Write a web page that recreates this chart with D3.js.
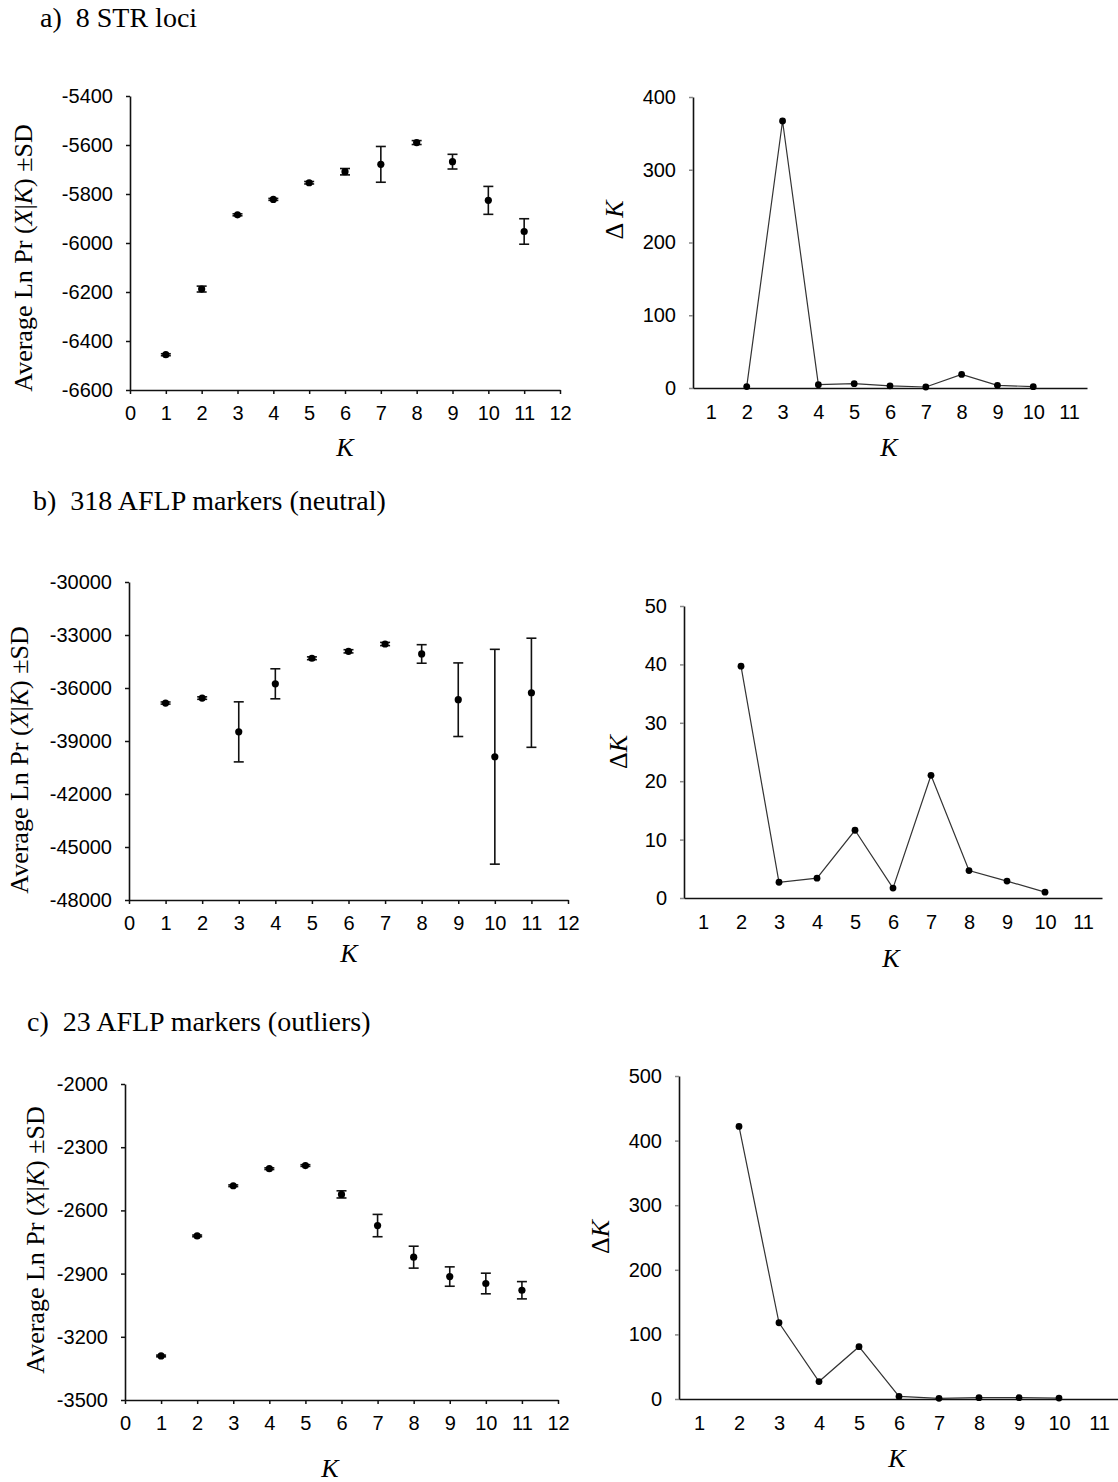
<!DOCTYPE html>
<html>
<head>
<meta charset="utf-8">
<script src="https://cdn.jsdelivr.net/npm/d3@7"></script>
<style>
  html, body { margin: 0; padding: 0; background: #fff; }
  svg { display: block; }
  .tick text { font-family: "Liberation Sans", Arial, sans-serif; font-size: 20px; fill: #000; }
  .title { font-family: "Liberation Serif", "Times New Roman", serif; font-size: 28px; fill: #000; white-space: pre; }
  .alabel { font-family: "Liberation Serif", "Times New Roman", serif; font-size: 26px; fill: #000; white-space: pre; }
</style>
</head>
<body>
<script>
// Number of clusters tested
const kValues = [1, 2, 3, 4, 5, 6, 7, 8, 9, 10, 11];
const deltaKValues = [2, 3, 4, 5, 6, 7, 8, 9, 10];

// a) 8 STR loci
const strMean = [-6456, -6188, -5885, -5822, -5754, -5709, -5679, -5590, -5668, -5826, -5953];
const strSD   = [4, 12, 4, 4, 5, 13, 73, 8, 30, 57, 52];
const strDeltaK = [2, 367, 4.6, 6, 3, 1.4, 18.7, 3.7, 1.8];

// b) 318 AFLP markers (neutral)
const neutralMean = [-36851, -36570, -38483, -35762, -34317, -33923, -33510, -34073, -36663, -39891, -36269];
const neutralSD   = [60, 70, 1700, 850, 80, 90, 90, 525, 2083, 6080, 3088];
const neutralDeltaK = [39.7, 2.7, 3.4, 11.6, 1.7, 21.0, 4.7, 2.9, 1.0];

// c) 23 AFLP markers (outliers)
const outlierMean = [-3291, -2721, -2483, -2402, -2387, -2524, -2672, -2822, -2914, -2947, -2979];
const outlierSD   = [4, 4, 4, 4, 4, 17, 53, 52, 46, 49, 41];
const outlierDeltaK = [422, 118, 27, 81, 4, 1, 2, 2, 1.5];

// Tick values for each panel
const strTicks = d3.range(-6600, -5399, 200);
const neutralTicks = d3.range(-48000, -29999, 3000);
const outlierTicks = d3.range(-3500, -1999, 300);
const strDeltaTicks = [0, 100, 200, 300, 400];
const neutralDeltaTicks = [0, 10, 20, 30, 40, 50];
const outlierDeltaTicks = [0, 100, 200, 300, 400, 500];

const titles = ["a)  8 STR loci", "b)  318 AFLP markers (neutral)", "c)  23 AFLP markers (outliers)"];

const svg = d3.select("body").append("svg").attr("width", 1118).attr("height", 1482);
const plain = d => String(d);

function styleAxis(a, tickColor) {
  a.select(".domain").attr("stroke", "#111").attr("stroke-width", 1.6);
  a.selectAll(".tick line").attr("stroke", tickColor).attr("stroke-width", 1.5);
}

function lnPrPanel(o) {
  const x = d3.scaleLinear().domain([0, 12]).range([o.x0, o.x1]);
  const y = d3.scaleLinear().domain(o.domain).range([o.y0, o.y1]);
  const g = svg.append("g");

  const ya = g.append("g").attr("transform", `translate(${o.x0},0)`)
    .call(d3.axisLeft(y).tickValues(o.ticks).tickSize(4).tickPadding(13).tickFormat(plain).tickSizeOuter(0));
  const xa = g.append("g").attr("transform", `translate(0,${o.y0})`)
    .call(d3.axisBottom(x).tickValues(d3.range(0, 13)).tickSize(4).tickPadding(12).tickFormat(plain).tickSizeOuter(0));
  styleAxis(ya, "#111");
  styleAxis(xa, "#111");
  xa.selectAll(".tick text").attr("dy", "0.72em");

  const pts = kValues.map((k, i) => ({ k, m: o.mean[i], s: o.sd[i] }));
  const bars = g.append("g").attr("stroke", "#111").attr("stroke-width", 1.6);
  pts.forEach(p => {
    const cx = x(p.k), top = y(p.m + p.s), bot = y(p.m - p.s);
    bars.append("line").attr("x1", cx).attr("x2", cx).attr("y1", top).attr("y2", bot);
    bars.append("line").attr("x1", cx - 5).attr("x2", cx + 5).attr("y1", top).attr("y2", top);
    bars.append("line").attr("x1", cx - 5).attr("x2", cx + 5).attr("y1", bot).attr("y2", bot);
  });
  g.append("g").selectAll("circle").data(pts).join("circle")
    .attr("cx", d => x(d.k)).attr("cy", d => y(d.m)).attr("r", 3.6).attr("fill", "#000");

  g.append("text").attr("class", "alabel").attr("x", o.kx).attr("y", o.ky)
    .attr("text-anchor", "middle").style("font-style", "italic").text("K");

  const yl = g.append("text").attr("class", "alabel")
    .attr("transform", `translate(${o.lx},${o.ly}) rotate(-90)`).attr("text-anchor", "middle");
  yl.append("tspan").text("Average Ln Pr (");
  yl.append("tspan").style("font-style", "italic").text("X");
  yl.append("tspan").text("|");
  yl.append("tspan").style("font-style", "italic").text("K");
  yl.append("tspan").text(") \u00b1SD");
}

function deltaKPanel(o) {
  const x = d3.scaleLinear().domain([0.5, 11.5]).range([o.x0, o.x1]);
  const y = d3.scaleLinear().domain(o.domain).range([o.y0, o.y1]);
  const g = svg.append("g");

  const ya = g.append("g").attr("transform", `translate(${o.x0},0)`)
    .call(d3.axisLeft(y).tickValues(o.ticks).tickSize(4).tickPadding(13).tickFormat(plain).tickSizeOuter(0));
  const xa = g.append("g").attr("transform", `translate(0,${o.y0})`)
    .call(d3.axisBottom(x).tickValues(kValues).tickSize(0).tickPadding(17).tickFormat(plain).tickSizeOuter(0));
  styleAxis(ya, "#888");
  styleAxis(xa, "#888");
  xa.selectAll(".tick text").attr("dy", "0.72em");

  const pts = deltaKValues.map((k, i) => ({ k, v: o.values[i] }));
  g.append("path").datum(pts)
    .attr("d", d3.line().x(d => x(d.k)).y(d => y(d.v)))
    .attr("fill", "none").attr("stroke", "#333").attr("stroke-width", 1.2);
  g.append("g").selectAll("circle").data(pts).join("circle")
    .attr("cx", d => x(d.k)).attr("cy", d => y(d.v)).attr("r", 3.4).attr("fill", "#000");

  g.append("text").attr("class", "alabel").attr("x", o.kx).attr("y", o.ky)
    .attr("text-anchor", "middle").style("font-style", "italic").text("K");

  const yl = g.append("text").attr("class", "alabel")
    .attr("transform", `translate(${o.lx},${o.ly}) rotate(-90)`).attr("text-anchor", "middle");
  yl.append("tspan").text(o.spaced ? "\u0394 " : "\u0394");
  yl.append("tspan").style("font-style", "italic").text("K");
}

// Panel titles
svg.append("text").attr("class", "title").attr("x", 40).attr("y", 27).text(titles[0]);
svg.append("text").attr("class", "title").attr("x", 33).attr("y", 510).text(titles[1]);
svg.append("text").attr("class", "title").attr("x", 27).attr("y", 1031).text(titles[2]);

// a)
lnPrPanel({ x0: 130, x1: 560, y0: 390, y1: 96, domain: [-6600, -5400], ticks: strTicks,
  mean: strMean, sd: strSD, kx: 345, ky: 456, lx: 32, ly: 258 });
deltaKPanel({ x0: 693, x1: 1087, y0: 388, y1: 97, domain: [0, 400], ticks: strDeltaTicks,
  values: strDeltaK, kx: 889, ky: 456, lx: 623, ly: 220, spaced: true });

// b)
lnPrPanel({ x0: 129, x1: 568, y0: 900, y1: 582, domain: [-48000, -30000], ticks: neutralTicks,
  mean: neutralMean, sd: neutralSD, kx: 349, ky: 962, lx: 28, ly: 760 });
deltaKPanel({ x0: 684, x1: 1102, y0: 898, y1: 606, domain: [0, 50], ticks: neutralDeltaTicks,
  values: neutralDeltaK, kx: 891, ky: 967, lx: 627, ly: 752, spaced: false });

// c)
lnPrPanel({ x0: 125, x1: 558, y0: 1400, y1: 1084, domain: [-3500, -2000], ticks: outlierTicks,
  mean: outlierMean, sd: outlierSD, kx: 330, ky: 1477, lx: 44, ly: 1240 });
deltaKPanel({ x0: 679, x1: 1119, y0: 1399, y1: 1076, domain: [0, 500], ticks: outlierDeltaTicks,
  values: outlierDeltaK, kx: 897, ky: 1467, lx: 609, ly: 1237, spaced: false });
</script>
</body>
</html>
